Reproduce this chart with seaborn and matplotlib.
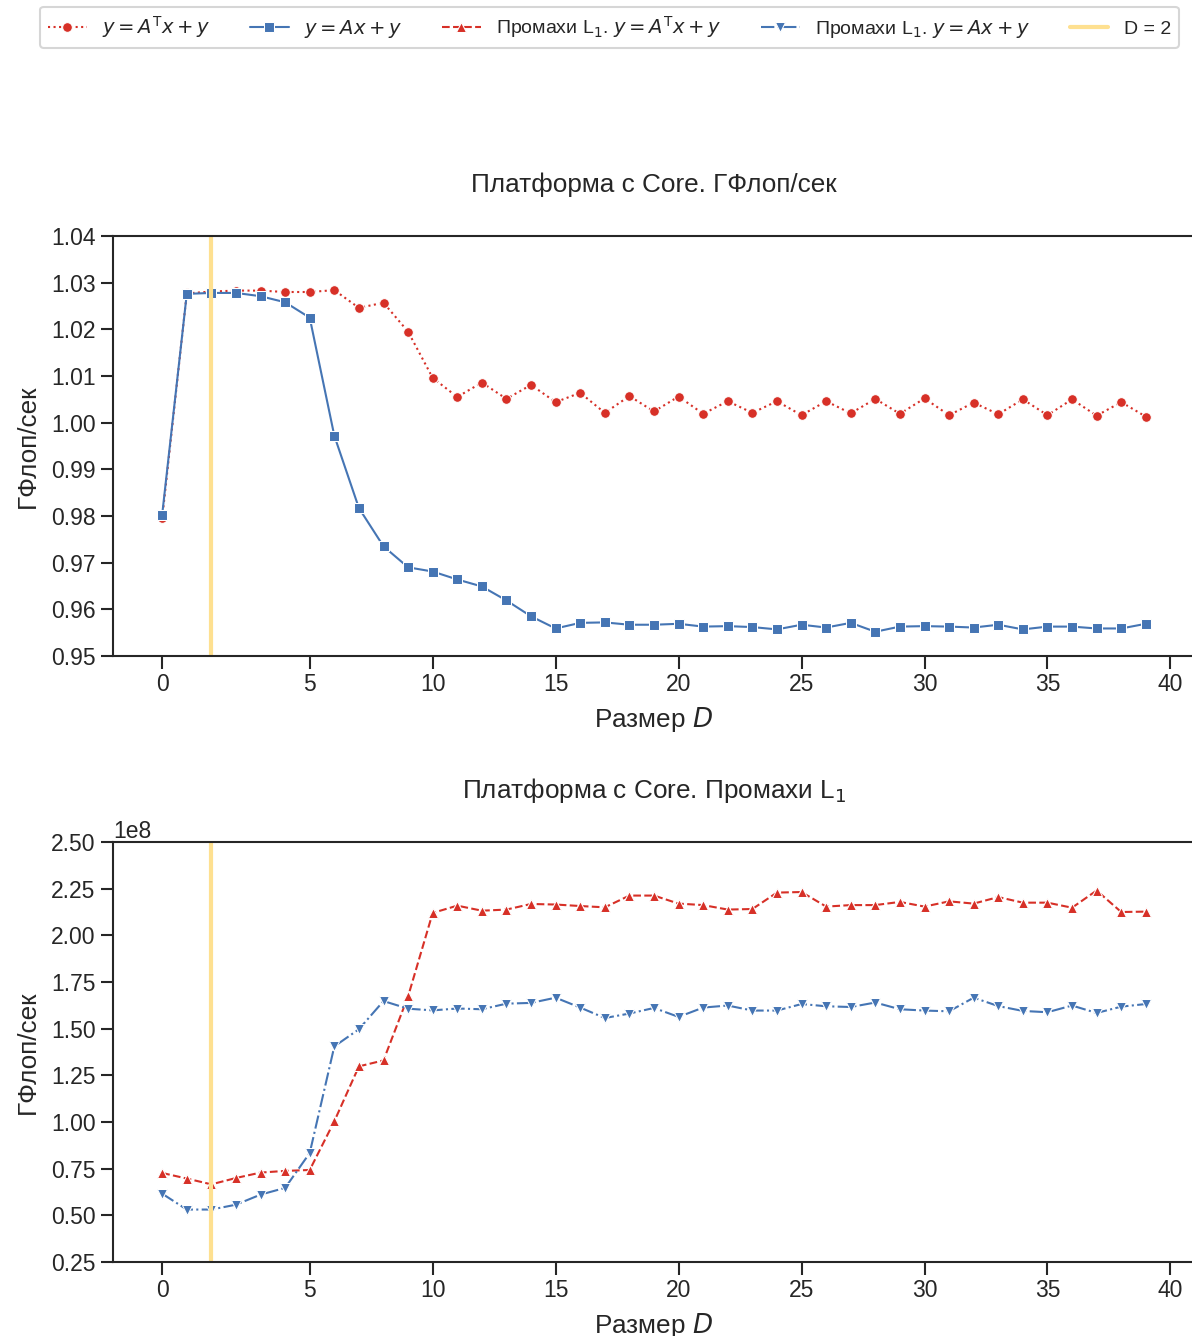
import numpy as np
import matplotlib
matplotlib.use("Agg")
import matplotlib.pyplot as plt
import seaborn as sns

# positions of the measured points along the x axis (one per run)
pos = list(range(41))
tick_pos = [0, 6, 11, 16, 21, 26, 31, 36, 41]
tick_labels = ["0", "5", "10", "15", "20", "25", "30", "35", "40"]
d_line = 2

# GFlop/s, y = A^T x + y
gflops_at = [0.9795, 1.0277, 1.0281, 1.0283, 1.0283, 1.0280, 1.0280, 1.0284, 1.0246, 1.0257,
             1.0195, 1.0096, 1.0055, 1.0086, 1.0051, 1.0081, 1.0044, 1.0064, 1.0021, 1.0057,
             1.0024, 1.0056, 1.0019, 1.0046, 1.0021, 1.0046, 1.0016, 1.0046, 1.0020, 1.0051,
             1.0019, 1.0052, 1.0016, 1.0043, 1.0018, 1.0050, 1.0016, 1.0050, 1.0015, 1.0044,
             1.0013]
# GFlop/s, y = A x + y
gflops_a = [0.9803, 1.0276, 1.0278, 1.0278, 1.0271, 1.0258, 1.0225, 0.9972, 0.9817, 0.9735,
            0.9690, 0.9681, 0.9664, 0.9649, 0.9619, 0.9585, 0.9559, 0.9571, 0.9572, 0.9567,
            0.9567, 0.9569, 0.9563, 0.9564, 0.9562, 0.9557, 0.9567, 0.9561, 0.9571, 0.9552,
            0.9563, 0.9564, 0.9563, 0.9561, 0.9567, 0.9557, 0.9563, 0.9563, 0.9559, 0.9559,
            0.9569]
# L1 misses (x 1e8)
misses_at = np.array([0.727, 0.697, 0.666, 0.700, 0.729, 0.738, 0.743, 1.004, 1.298, 1.330,
                      1.673, 2.120, 2.159, 2.132, 2.138, 2.168, 2.165, 2.157, 2.150, 2.213,
                      2.213, 2.170, 2.162, 2.138, 2.141, 2.229, 2.232, 2.154, 2.162, 2.162,
                      2.179, 2.154, 2.182, 2.170, 2.205, 2.175, 2.175, 2.148, 2.240, 2.125,
                      2.127]) * 1e8
misses_a = np.array([0.616, 0.531, 0.531, 0.557, 0.611, 0.647, 0.834, 1.405, 1.497, 1.648,
                     1.607, 1.598, 1.608, 1.604, 1.634, 1.638, 1.666, 1.613, 1.557, 1.581,
                     1.611, 1.563, 1.613, 1.624, 1.597, 1.597, 1.632, 1.620, 1.616, 1.640,
                     1.604, 1.597, 1.593, 1.666, 1.621, 1.595, 1.588, 1.624, 1.584, 1.618,
                     1.632]) * 1e8

red, blue, gold = "#d73027", "#4575b4", "#fee090"

sns.set_theme(style="ticks", context="talk")
plt.rcParams["font.family"] = ["Liberation Sans", "DejaVu Sans"]
plt.rcParams["axes.linewidth"] = 1.5
plt.rcParams["xtick.major.width"] = 1.5
plt.rcParams["ytick.major.width"] = 1.5
plt.rcParams["axes.labelsize"] = 18.8
plt.rcParams["axes.titlesize"] = 18.8

W, H = 1192, 1336
fig = plt.figure(figsize=(W / 100, H / 100), dpi=100)
ax1 = fig.add_axes([113 / W, 1 - 656 / H, 1082 / W, 420 / H])
ax2 = fig.add_axes([113 / W, 1 - 1262 / H, 1082 / W, 420 / H])

line_kw = dict(linewidth=1.5, markersize=7)

# (a) GFlop/s
sns.lineplot(x=pos, y=gflops_at, ax=ax1, color=red, linestyle=":", marker="o",
             label=r"$y = A^{\mathsf{T}}x + y$", **line_kw)
sns.lineplot(x=pos, y=gflops_a, ax=ax1, color=blue, linestyle="-", marker="s",
             label=r"$y = Ax + y$", **line_kw)
ax1.axvline(d_line, color=gold, linewidth=3, label="D = 2")
ax1.set_ylim(0.95, 1.04)
ax1.set_yticks(np.arange(0.95, 1.0401, 0.01))
ax1.set_title("Платформа с Core. ГФлоп/сек", pad=32)

# (b) L1 misses
sns.lineplot(x=pos, y=misses_at, ax=ax2, color=red, linestyle="--", marker="^",
             label=r"Промахи L$_1$. $y = A^{\mathsf{T}}x + y$", **line_kw)
sns.lineplot(x=pos, y=misses_a, ax=ax2, color=blue, linestyle="-.", marker="v",
             label=r"Промахи L$_1$. $y = Ax + y$", **line_kw)
ax2.axvline(d_line, color=gold, linewidth=3)
ax2.set_ylim(0.25e8, 2.5e8)
ax2.set_yticks(np.arange(0.25e8, 2.51e8, 0.25e8))
ax2.set_title("Платформа с Core. Промахи L$_1$", pad=32)

for ax in (ax1, ax2):
    ax.set_xlim(-2, 42)
    ax.set_xticks(tick_pos)
    ax.set_xticklabels(tick_labels)
    ax.set_xlabel("Размер $D$", labelpad=6)
    ax.set_ylabel("ГФлоп/сек", labelpad=8)
    ax.spines["right"].set_visible(False)
    ax.get_legend().remove()

h1, l1 = ax1.get_legend_handles_labels()
h2, l2 = ax2.get_legend_handles_labels()
handles = h1[:2] + h2 + h1[2:]
labels = l1[:2] + l2 + l1[2:]
fig.legend(handles, labels, loc="lower left", ncol=5, mode="expand",
           bbox_to_anchor=(40 / W, 1 - 48 / H, 1139 / W, 38 / H),
           borderaxespad=0, fontsize=14)

fig.savefig("out.png", dpi=100)
